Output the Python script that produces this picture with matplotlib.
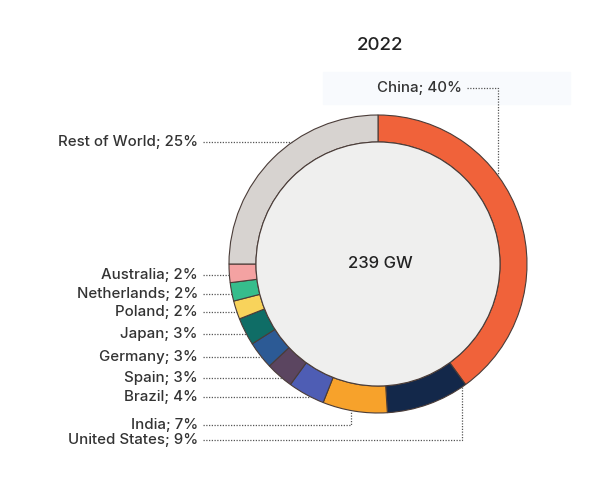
import numpy as np
import matplotlib.pyplot as plt
from matplotlib.patches import Circle, Rectangle

# data
countries = ["China", "United States", "India", "Brazil", "Spain", "Germany",
             "Japan", "Poland", "Netherlands", "Australia", "Rest of World"]
shares = [40, 9, 7, 4, 3, 3, 3, 2, 2, 2, 25]
colors = ["#F0623A", "#13284A", "#F7A22B", "#4E5DB4", "#5B4560", "#2C5A95",
          "#0F6D66", "#F8D35B", "#36BD8C", "#F4A2A2", "#D7D3D0"]
year = "2022"
total = "239 GW"

plt.rcParams['font.family'] = ['Inter', 'DejaVu Sans']
txt = "#333333"
fs = 10.8

fig = plt.figure(figsize=(6, 4.88), dpi=100)
ax = fig.add_axes([0, 0, 1, 1])

H = 488
cx, cy = 378, H - 264
R, W = 149, 27

def py(y):
    # pixel row -> data y
    return H - y

# faint box behind the China label
ax.add_patch(Rectangle((323, py(104)), 247, 32, color="#F8FAFD", zorder=0))

wedges, _ = ax.pie(shares, colors=colors, startangle=90, counterclock=False,
                   radius=R, center=(cx, cy),
                   wedgeprops=dict(width=W, edgecolor="#4A3C38", linewidth=0.8))
ax.add_patch(Circle((cx, cy), R - W, facecolor="#EFEFEE", edgecolor="#4A3C38",
                    linewidth=0.8, zorder=3))

lstyle = dict(color="#555555", lw=0.9, ls=(0, (1, 1.2)), zorder=4)
tx = 198  # right edge of left labels

def lab(i):
    return f"{countries[i]}; {shares[i]}%"

# small slices on the left: horizontal leader from label to slice middle
for i in range(3, 10):
    w = wedges[i]
    a = np.deg2rad((w.theta1 + w.theta2) / 2)
    y = cy + R * np.sin(a) - 2
    x = cx - np.sqrt(R**2 - (y - cy)**2)
    ax.text(tx, y, lab(i), ha="right", va="center", fontsize=fs, color=txt,
            fontweight="medium")
    ax.plot([tx + 5, x], [y, y], **lstyle)

# Rest of World
y = py(142)
xr = cx - np.sqrt(R**2 - (y - cy)**2)
ax.text(tx, y, lab(10), ha="right", va="center", fontsize=fs, color=txt,
        fontweight="medium")
ax.plot([tx + 5, xr], [y, y], **lstyle)

# China (top, elbow down to ring)
y, xe = py(88), 498
ye = cy + np.sqrt(R**2 - (xe - cx)**2)
ax.text(462, y, lab(0), ha="right", va="center", fontsize=fs, color=txt,
        fontweight="medium")
ax.plot([467, xe, xe], [y, y, ye], **lstyle)

# India and United States (bottom, elbow up to ring)
for i, yp, xe in [(2, 425, 351), (1, 440, 462)]:
    y = py(yp)
    ye = cy - np.sqrt(R**2 - (xe - cx)**2)
    ax.text(tx, y, lab(i), ha="right", va="center", fontsize=fs, color=txt,
            fontweight="medium")
    ax.plot([tx + 5, xe, xe], [y, y, ye], **lstyle)

ax.text(cx + 2, py(45), year, ha="center", va="center", fontsize=13.5,
        fontweight="medium", color="#222222")
ax.text(cx + 2, cy, total, ha="center", va="center", fontsize=12,
        fontweight="medium", color="#222222", zorder=5)

ax.set_xlim(0, 600)
ax.set_ylim(0, H)
ax.set_aspect("equal")
ax.axis("off")

fig.savefig("out.png", dpi=100)
